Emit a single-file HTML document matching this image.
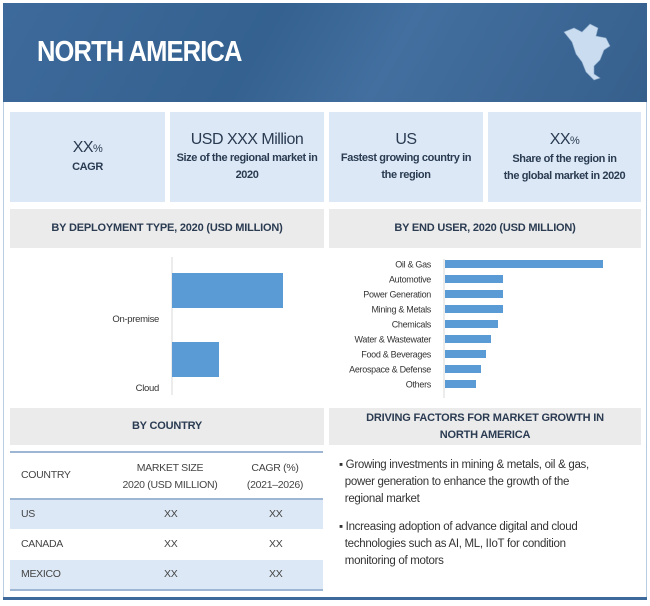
<!DOCTYPE html>
<html><head><meta charset="utf-8">
<style>
*{margin:0;padding:0;box-sizing:border-box}
body{width:650px;height:606px;background:#fff;position:relative;overflow:hidden;font-family:"Liberation Sans Narrow","Liberation Sans",sans-serif;color:#2a3b52}
.abs{position:absolute}
.frame{left:3px;top:3px;width:644px;height:597px;border:1px solid #b9cde3}
.header{left:3px;top:3px;width:644px;height:99px;background:linear-gradient(120deg,#3d6a9b 0%,#34618f 40%,#426f9f 60%,#365f8c 100%)}
.title{left:37px;top:36px;color:#fff;font-size:29px;font-weight:bold;letter-spacing:-1px;transform:scaleX(0.88);transform-origin:left top}
.stat{top:112px;height:90px;background:#dce8f5;text-align:center;font-size:11px;font-weight:bold;display:flex;flex-direction:column;justify-content:center;line-height:17px;letter-spacing:-0.4px}
.stat .big{font-size:16px;font-weight:normal;line-height:20px;letter-spacing:-0.5px}
.sec{background:#ebebeb;font-size:11px;font-weight:bold;text-align:center;display:flex;align-items:center;justify-content:center;line-height:17px;letter-spacing:-0.2px}
.cell{font-size:10.5px;color:#444;letter-spacing:-0.3px}
.bul{font-size:11.5px;line-height:17px;color:#333;letter-spacing:-0.3px}
</style></head><body>
<div class="abs frame"></div>
<div class="abs header"></div>
<div class="abs title">NORTH AMERICA</div>
<svg class="abs" style="left:560px;top:18px" width="60" height="70">
<path d="M4 14 L14 10 L22 14 L30 6 L38 10 L36 18 L46 20 L50 28 L44 32 L40 42 L34 48 L34 56 L40 60 L34 62 L26 54 L22 44 L16 36 L12 24 Z" fill="#c9dcf0" stroke="#8aa7c7" stroke-width="0.6"/>
</svg>

<div class="abs stat" style="left:10px;width:155px"><div class="big">XX<span style="font-size:11px">%</span></div><div>CAGR</div></div>
<div class="abs stat" style="left:170px;width:154px"><div class="big">USD XXX Million</div><div>Size of the regional market in<br>2020</div></div>
<div class="abs stat" style="left:329px;width:154px"><div class="big">US</div><div>Fastest growing country in<br>the region</div></div>
<div class="abs stat" style="left:488px;width:153px"><div class="big">XX<span style="font-size:11px">%</span></div><div>Share of the region in<br>the global market in 2020</div></div>

<div class="abs sec" style="left:10px;top:209px;width:314px;height:39px">BY DEPLOYMENT TYPE, 2020 (USD MILLION)</div>
<div class="abs sec" style="left:329px;top:209px;width:312px;height:39px">BY END USER, 2020 (USD MILLION)</div>

<svg class="abs" style="left:0;top:0" width="650" height="606" id="charts"></svg>

<div class="abs sec" style="left:10px;top:408px;width:314px;height:37px">BY COUNTRY</div>
<div class="abs sec" style="left:329px;top:408px;width:312px;height:37px">DRIVING FACTORS FOR MARKET GROWTH IN<br>NORTH AMERICA</div>

<div class="abs" style="left:10px;top:451px;width:313px;height:2px;background:#9db6d3"></div>
<div class="abs" style="left:10px;top:498px;width:313px;height:2px;background:#9db6d3"></div>
<div class="abs" style="left:10px;top:500px;width:313px;height:29px;background:#dce8f5"></div>
<div class="abs" style="left:10px;top:560px;width:313px;height:29px;background:#dce8f5"></div>
<div class="abs" style="left:10px;top:589px;width:313px;height:2px;background:#9db6d3"></div>
<div class="abs cell" style="left:21px;top:469px">COUNTRY</div>
<div class="abs cell" style="left:110px;top:460px;width:120px;text-align:center;line-height:17px">MARKET SIZE<br>2020 (USD MILLION)</div>
<div class="abs cell" style="left:225px;top:460px;width:100px;text-align:center;line-height:17px">CAGR (%)<br>(2021–2026)</div>
<div class="abs cell" style="left:21px;top:508px">US</div>
<div class="abs cell" style="left:164px;top:508px">XX</div>
<div class="abs cell" style="left:269px;top:508px">XX</div>
<div class="abs cell" style="left:21px;top:538px">CANADA</div>
<div class="abs cell" style="left:164px;top:538px">XX</div>
<div class="abs cell" style="left:269px;top:538px">XX</div>
<div class="abs cell" style="left:21px;top:568px">MEXICO</div>
<div class="abs cell" style="left:164px;top:568px">XX</div>
<div class="abs cell" style="left:269px;top:568px">XX</div>

<div class="abs bul" style="left:339px;top:457px;width:305px">▪ Growing investments in mining &amp; metals, oil &amp; gas,<br>&nbsp;&nbsp;power generation to enhance the growth of the<br>&nbsp;&nbsp;regional market</div>
<div class="abs bul" style="left:339px;top:519px;width:305px">▪ Increasing adoption of advance digital and cloud<br>&nbsp;&nbsp;technologies such as AI, ML, IIoT for condition<br>&nbsp;&nbsp;monitoring of motors</div>

<div class="abs" style="left:3px;top:597px;width:644px;height:3px;background:#3d6a9b"></div>

<script>
const depCategories = ["On-premise","Cloud"];
const depValues = [111, 47];
const euCategories = ["Oil & Gas","Automotive","Power Generation","Mining & Metals","Chemicals","Water & Wastewater","Food & Beverages","Aerospace & Defense","Others"];
const euValues = [158, 58, 58, 58, 53, 46, 41, 36, 31];

const NS="http://www.w3.org/2000/svg";
const svg=document.getElementById('charts');
function mk(t,a){const e=document.createElementNS(NS,t);for(const k in a)e.setAttribute(k,a[k]);svg.appendChild(e);return e;}

const dx0=172, dScale=v=>v*1.0;
const dy=i=>273+i*69;
let ax=mk('line',{x1:dx0,y1:257,x2:dx0,y2:395,stroke:'#d9d9d9'});


depCategories.forEach((c,i)=>{
  const r=mk('rect',{x:dx0,y:dy(i),width:dScale(depValues[i]),height:35,fill:'#5b9bd5'});
  
  
  const t=mk('text',{x:159,y:dy(i)+49,'text-anchor':'end','font-size':9.5,fill:'#333','letter-spacing':'-0.3','font-family':'"Liberation Sans Narrow","Liberation Sans",sans-serif'});
  t.textContent=c;
  
  
});

const ex0=445, eScale=v=>v*1.0;
const ey=i=>264+i*15;
let ax2=mk('line',{x1:ex0-1,y1:259,x2:ex0-1,y2:398,stroke:'#d9d9d9'});


euCategories.forEach((c,i)=>{
  const r=mk('rect',{x:ex0,y:ey(i)-4,width:eScale(euValues[i]),height:8,fill:'#5b9bd5'});
  
  
  const t=mk('text',{x:431,y:ey(i)+3.5,'text-anchor':'end','font-size':9,fill:'#333','letter-spacing':'-0.3','font-family':'"Liberation Sans Narrow","Liberation Sans",sans-serif'});
  t.textContent=c;
  
  
});
</script>
</body></html>
